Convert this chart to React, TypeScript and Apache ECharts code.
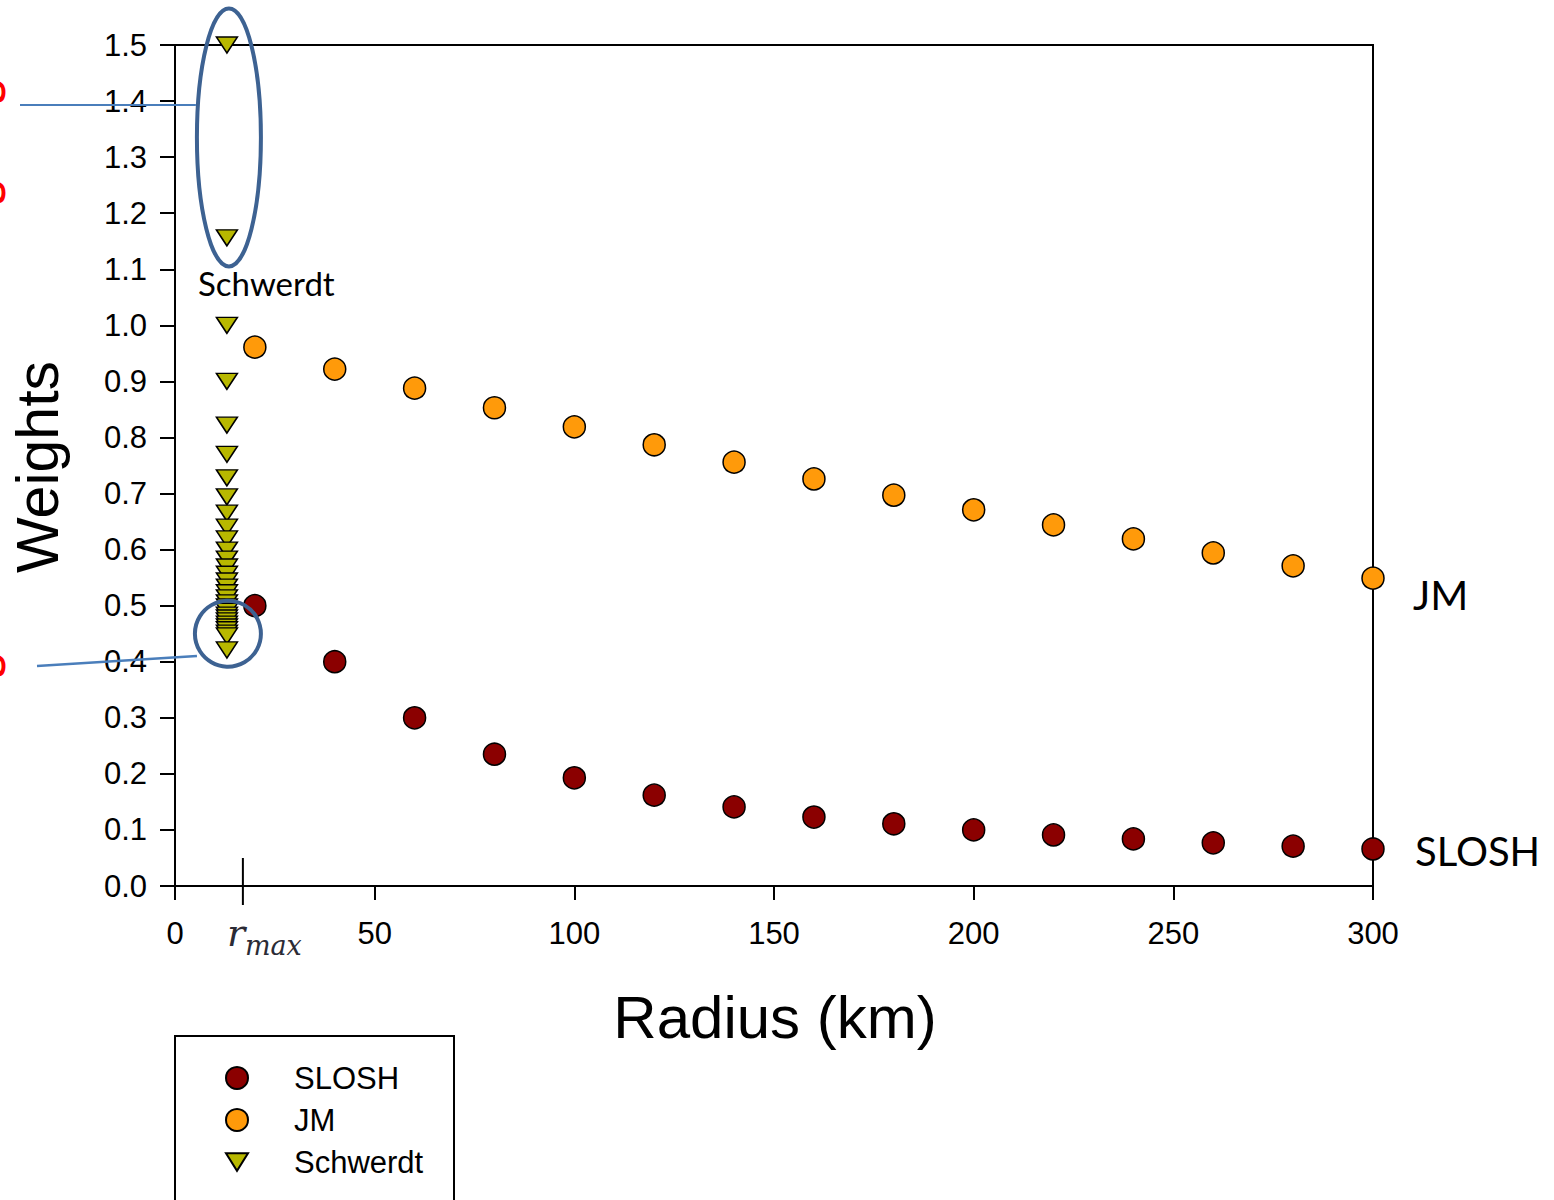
import React, { useEffect, useRef } from "react";
import * as echarts from "echarts";

// Radii (km) at which the SLOSH and JM weights are evaluated
const radius = [20, 40, 60, 80, 100, 120, 140, 160, 180, 200, 220, 240, 260, 280, 300];
const sloshWeights = [0.5, 0.4, 0.3, 0.235, 0.193, 0.162, 0.141, 0.123, 0.111, 0.1, 0.091, 0.084, 0.077, 0.071, 0.066];
const jmWeights = [0.961, 0.922, 0.888, 0.853, 0.819, 0.787, 0.756, 0.726, 0.697, 0.671, 0.644, 0.619, 0.594, 0.571, 0.549];

// Schwerdt weights all sit at one radius inside the radius of maximum wind
const schwerdtRadius = 13;
const schwerdtWeights = [
  1.5, 1.156, 1.0, 0.9, 0.822, 0.77, 0.728, 0.694, 0.665, 0.64, 0.619, 0.599, 0.583, 0.569, 0.556,
  0.544, 0.533, 0.523, 0.514, 0.505, 0.498, 0.49, 0.483, 0.478, 0.473, 0.467, 0.462, 0.457, 0.451,
  0.446, 0.421,
];

const rMax = 17;
const seriesNames = ["SLOSH", "JM", "Schwerdt"];
const xTickStep = 50;
const yTickStep = 0.1;

const AXIS_FONT = "'Liberation Sans', Arial, sans-serif";
const NOTE_FONT = "Lato, 'Open Sans', sans-serif";
const MATH_FONT = "'DejaVu Serif', 'Liberation Serif', serif";

export default function App() {
  const ref = useRef<HTMLDivElement>(null);

  useEffect(() => {
    if (!ref.current) return;
    const chart = echarts.init(ref.current, null, { renderer: "svg" });

    const option: any = {
      animation: false,
      backgroundColor: "#ffffff",
      grid: {
        left: 175,
        top: 45,
        right: 181,
        bottom: 314,
        show: true,
        borderColor: "#000",
        borderWidth: 2,
        backgroundColor: "transparent",
      },
      xAxis: {
        type: "value",
        min: 0,
        max: 300,
        interval: xTickStep,
        splitLine: { show: false },
        axisLine: { onZero: false, lineStyle: { color: "#000", width: 2 } },
        axisTick: { inside: false, length: 14, lineStyle: { color: "#000", width: 2 } },
        axisLabel: { margin: 32, fontSize: 31, fontFamily: AXIS_FONT, color: "#000" },
      },
      yAxis: {
        type: "value",
        min: 0,
        max: 1.5,
        interval: yTickStep,
        splitLine: { show: false },
        axisLine: { onZero: false, lineStyle: { color: "#000", width: 2 } },
        axisTick: { inside: false, length: 15, lineStyle: { color: "#000", width: 2 } },
        axisLabel: {
          margin: 28,
          fontSize: 31,
          fontFamily: AXIS_FONT,
          color: "#000",
          formatter: (v: number) => v.toFixed(1),
        },
      },
      legend: {
        orient: "vertical",
        left: 220,
        top: 1056,
        itemWidth: 22,
        itemHeight: 22,
        itemGap: 8,
        symbolKeepAspect: true,
        data: [
          { name: seriesNames[0] },
          { name: seriesNames[1] },
          { name: seriesNames[2], icon: "path://M0,0L20,0L10,16Z" },
        ],
        textStyle: {
          fontSize: 31,
          lineHeight: 34,
          fontFamily: AXIS_FONT,
          color: "#000",
          padding: [0, 0, 0, 41],
        },
      },
      series: [
        {
          name: seriesNames[0],
          type: "scatter",
          symbol: "circle",
          symbolSize: 22,
          itemStyle: { color: "#8b0000", borderColor: "#000", borderWidth: 1.5, opacity: 1 },
          data: radius.map((r, i) => [r, sloshWeights[i]]),
          z: 3,
        },
        {
          name: seriesNames[1],
          type: "scatter",
          symbol: "circle",
          symbolSize: 22,
          itemStyle: { color: "#ff9a0a", borderColor: "#000", borderWidth: 1.5, opacity: 1 },
          data: radius.map((r, i) => [r, jmWeights[i]]),
          z: 3,
        },
        {
          name: seriesNames[2],
          type: "scatter",
          symbol: "triangle",
          symbolRotate: 180,
          symbolSize: [21, 16],
          itemStyle: { color: "#b8b800", borderColor: "#000", borderWidth: 1.5, opacity: 1 },
          data: schwerdtWeights.map((w) => [schwerdtRadius, w]),
          z: 4,
        },
      ],
    };

    chart.setOption(option);

    const px = (x: number, y: number) => chart.convertToPixel({ gridIndex: 0 }, [x, y]) as number[];
    const [rMaxX, axisY] = px(rMax, 0);
    const [lastX, jmLastY] = px(radius[radius.length - 1], jmWeights[jmWeights.length - 1]);
    const [, sloshLastY] = px(radius[radius.length - 1], sloshWeights[sloshWeights.length - 1]);
    const [sx, upperMidY] = px(schwerdtRadius, (schwerdtWeights[0] + schwerdtWeights[1]) / 2);
    const [, lowY] = px(schwerdtRadius, 0.45);
    const [, labelY] = px(schwerdtRadius, 1.075);
    const blue = "#3d6292";
    const lineBlue = "#4a7ebb";

    chart.setOption({
      graphic: [
        // r_max marker crossing the radius axis
        {
          type: "line",
          shape: { x1: rMaxX, y1: axisY - 28, x2: rMaxX, y2: axisY + 19 },
          style: { stroke: "#000", lineWidth: 2 },
          z: 10,
        },
        {
          type: "text",
          x: rMaxX - 16,
          y: axisY + 28,
          style: { text: "r", fontSize: 38, fontStyle: "italic", fontFamily: MATH_FONT, fill: "#2b2b35" },
          z: 10,
        },
        {
          type: "text",
          x: rMaxX + 2,
          y: axisY + 46,
          style: { text: "max", fontSize: 27, fontStyle: "italic", fontFamily: MATH_FONT, fill: "#2b2b35" },
          z: 10,
        },
        // axis titles
        {
          type: "text",
          x: 775,
          y: 1017,
          style: {
            text: "Radius (km)",
            fontSize: 60,
            fontFamily: AXIS_FONT,
            fill: "#000",
            textAlign: "center",
            textVerticalAlign: "middle",
          },
        },
        {
          type: "text",
          x: 38,
          y: 467,
          rotation: Math.PI / 2,
          style: {
            text: "Weights",
            fontSize: 59,
            fontFamily: AXIS_FONT,
            fill: "#000",
            textAlign: "center",
            textVerticalAlign: "middle",
          },
        },
        // series notes
        {
          type: "text",
          x: 198,
          y: labelY,
          style: { text: "Schwerdt", fontSize: 33, fontFamily: NOTE_FONT, fill: "#000", textVerticalAlign: "middle" },
          z: 10,
        },
        {
          type: "text",
          x: lastX + 40,
          y: jmLastY + 16,
          style: { text: "JM", fontSize: 41, fontFamily: NOTE_FONT, fill: "#000", textVerticalAlign: "middle" },
        },
        {
          type: "text",
          x: lastX + 42,
          y: sloshLastY + 2,
          style: { text: "SLOSH", fontSize: 40, fontFamily: NOTE_FONT, fill: "#000", textVerticalAlign: "middle" },
        },
        // highlighted groups of Schwerdt weights
        {
          type: "ellipse",
          shape: { cx: sx + 2, cy: upperMidY - 4, rx: 32, ry: 129 },
          style: { fill: "none", stroke: blue, lineWidth: 4 },
          z: 20,
        },
        {
          type: "circle",
          shape: { cx: sx + 1, cy: lowY, r: 33 },
          style: { fill: "none", stroke: blue, lineWidth: 4 },
          z: 20,
        },
        {
          type: "line",
          shape: { x1: 20, y1: 105, x2: sx - 31, y2: 105 },
          style: { stroke: lineBlue, lineWidth: 2 },
          z: 20,
        },
        {
          type: "line",
          shape: { x1: 37, y1: 666, x2: sx - 30, y2: 656 },
          style: { stroke: lineBlue, lineWidth: 2.5 },
          z: 20,
        },
        // side notes running off the left edge
        {
          type: "text",
          x: 3,
          y: 80,
          rotation: Math.PI / 2,
          style: {
            text: "Overweighting",
            fontSize: 44,
            fontWeight: "bold",
            fontFamily: NOTE_FONT,
            fill: "#ff0000",
            textAlign: "right",
            textVerticalAlign: "bottom",
          },
        },
        {
          type: "text",
          x: 3,
          y: 654,
          rotation: Math.PI / 2,
          style: {
            text: "Underestimating",
            fontSize: 44,
            fontWeight: "bold",
            fontFamily: NOTE_FONT,
            fill: "#ff0000",
            textAlign: "right",
            textVerticalAlign: "bottom",
          },
        },
        // legend frame, open past the bottom edge
        {
          type: "rect",
          shape: { x: 175, y: 1036, width: 279, height: 200 },
          style: { fill: "none", stroke: "#000", lineWidth: 2 },
        },
      ],
    });

    return () => chart.dispose();
  }, []);

  return (
    <div
      ref={ref}
      style={{ position: "fixed", left: 0, top: 0, width: 1554, height: 1200 }}
    />
  );
}
